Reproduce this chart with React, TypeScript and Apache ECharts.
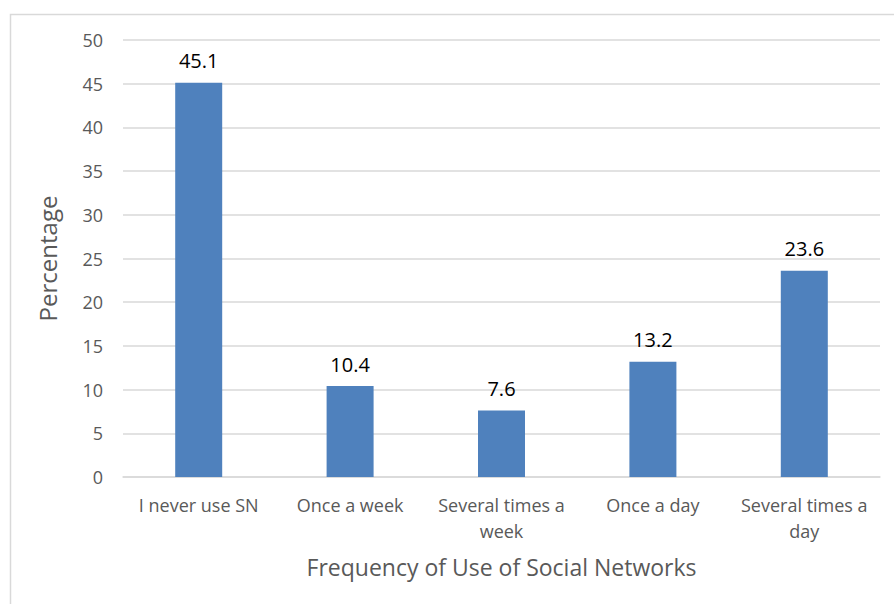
import React, { useEffect, useRef } from "react";
import * as echarts from "echarts";

const categories = ["I never use SN", "Once a week", "Several times a week", "Once a day", "Several times a day"];
const values = [45.1, 10.4, 7.6, 13.2, 23.6];
const yTicks = { min: 0, max: 50, interval: 5 };

const FONT = "'Open Sans', 'Noto Sans', sans-serif";

export default function App() {
  const ref = useRef<HTMLDivElement>(null);
  useEffect(() => {
    if (!ref.current) return;
    const chart = echarts.init(ref.current, null, { renderer: "svg" });
    chart.setOption({
      animation: false,
      backgroundColor: "#ffffff",
      textStyle: { fontFamily: FONT },
      graphic: [
        {
          type: "rect",
          shape: { x: 10.5, y: 14.5, width: 900, height: 600 },
          style: { fill: "none", stroke: "#d9d9d9", lineWidth: 1.5 },
          silent: true,
        },
      ],
      grid: { left: 123, right: 14, top: 40, bottom: 127 },
      xAxis: {
        type: "category",
        data: categories,
        axisLine: { show: true, lineStyle: { color: "#d9d9d9", width: 1.5 } },
        axisTick: { show: false },
        axisLabel: {
          color: "#595959",
          fontSize: 18,
          fontFamily: FONT,
          margin: 15,
          lineHeight: 26,
          interval: 0,
          formatter: (v: string) => {
            if (v.length <= 14) return v;
            const i = v.lastIndexOf(" ");
            return v.slice(0, i) + "\n" + v.slice(i + 1);
          },
        },
        name: "Frequency of Use of Social Networks",
        nameLocation: "middle",
        nameGap: 78,
        nameTextStyle: { color: "#595959", fontSize: 23, fontFamily: FONT },
      },
      yAxis: {
        type: "value",
        min: yTicks.min,
        max: yTicks.max,
        interval: yTicks.interval,
        axisLine: { show: false },
        axisTick: { show: false },
        splitLine: { lineStyle: { color: "#d9d9d9", width: 1.5 } },
        axisLabel: { color: "#595959", fontSize: 18, fontFamily: FONT, margin: 20 },
        name: "Percentage",
        nameLocation: "middle",
        nameGap: 64,
        nameTextStyle: { color: "#595959", fontSize: 24, fontFamily: FONT },
      },
      series: [
        {
          type: "bar",
          data: values,
          barWidth: 47,
          itemStyle: { color: "#4f81bd" },
          label: {
            show: true,
            position: "top",
            distance: 12,
            color: "#000000",
            fontSize: 20,
            fontFamily: FONT,
          },
        },
      ],
    });
    return () => chart.dispose();
  }, []);
  return (
    <div
      ref={ref}
      style={{ position: "fixed", left: 0, top: 0, width: 894, height: 604 }}
    />
  );
}
